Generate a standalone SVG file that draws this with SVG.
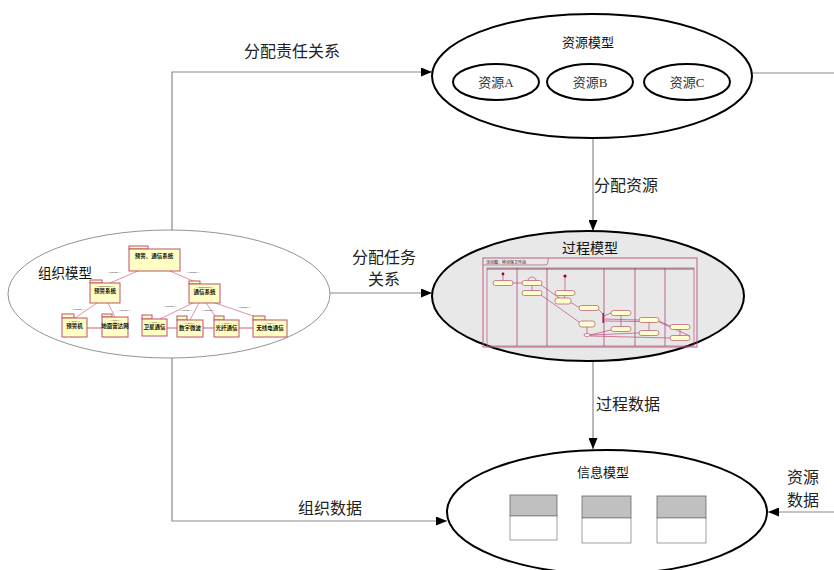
<svg xmlns="http://www.w3.org/2000/svg" width="834" height="570" viewBox="0 0 834 570">
<style>
.lbl{font-family:"Noto Sans CJK SC",sans-serif;fill:#222;font-size:16px}
.ttl{font-family:"Noto Sans CJK SC",sans-serif;fill:#111;font-size:13px}
.res{font-family:"Liberation Serif","Noto Sans CJK SC",serif;fill:#333;font-size:13px}
.conn{fill:none;stroke:#8a8a8a;stroke-width:1.2}
.big{fill:#fff;stroke:#000;stroke-width:2}
.pkg{fill:#ffffc4;stroke:#c0506e;stroke-width:1}
.ptx{font-family:"Noto Sans CJK SC",sans-serif;font-size:5.5px;font-weight:bold;fill:#111;text-anchor:middle}
.st{font-family:"Liberation Sans",sans-serif;font-size:2.4px;fill:#111;text-anchor:middle}
.dep{fill:none;stroke:#d87890;stroke-width:0.8}
.act{fill:#ffffcc;stroke:#b03060;stroke-width:0.6}
.al{fill:none;stroke:#b8306a;stroke-width:0.6}
.tb{fill:#fff;stroke:#777;stroke-width:0.7}
</style>
<defs>
<marker id="ah" markerUnits="userSpaceOnUse" markerWidth="11" markerHeight="9" refX="11" refY="4.5" orient="auto">
<path d="M0,0 L11,4.5 L0,9 z" fill="#000"/>
</marker>
</defs>

<g id="connectors">
<polyline class="conn" points="172,230 172,72 432,72" marker-end="url(#ah)"/>
<line class="conn" x1="593" y1="139" x2="593" y2="231" marker-end="url(#ah)"/>
<line class="conn" x1="330" y1="293" x2="432" y2="293" marker-end="url(#ah)"/>
<line class="conn" x1="593" y1="361" x2="593" y2="449" marker-end="url(#ah)"/>
<polyline class="conn" points="172,358 172,521 447,521" marker-end="url(#ah)"/>
<line class="conn" x1="834" y1="512" x2="768" y2="512" marker-end="url(#ah)"/>
<line class="conn" x1="752" y1="73" x2="834" y2="73"/>
<text class="lbl" x="244" y="57">分配责任关系</text>
<text class="lbl" x="594" y="191">分配资源</text>
<text class="lbl" x="352" y="263">分配任务</text>
<text class="lbl" x="368" y="285">关系</text>
<text class="lbl" x="596" y="410">过程数据</text>
<text class="lbl" x="298" y="514">组织数据</text>
<text class="lbl" x="787" y="483">资源</text>
<text class="lbl" x="787" y="506">数据</text>
</g>

<g id="resource-model">
<ellipse class="big" cx="592" cy="76" rx="160" ry="62"/>
<text class="ttl" x="588" y="47" text-anchor="middle">资源模型</text>
<g id="resource-a"><ellipse class="big" cx="496" cy="82" rx="43" ry="18"/><text class="res" x="496" y="87" text-anchor="middle">资源A</text></g>
<g id="resource-b"><ellipse class="big" cx="590" cy="82" rx="43" ry="18"/><text class="res" x="590" y="87" text-anchor="middle">资源B</text></g>
<g id="resource-c"><ellipse class="big" cx="687" cy="82" rx="43" ry="18"/><text class="res" x="687" y="87" text-anchor="middle">资源C</text></g>
</g>

<g id="org-model">
<ellipse cx="169" cy="294" rx="161" ry="64" fill="#fff" stroke="#777" stroke-width="0.8"/>
<text class="ttl" x="38" y="278" style="font-size:13.5px">组织模型</text>
<g>
<line class="dep" x1="110" y1="283" x2="138" y2="271"/>
<line class="dep" x1="200" y1="284" x2="170" y2="271"/>
<line class="dep" x1="75" y1="318" x2="97" y2="303"/>
<line class="dep" x1="115" y1="317" x2="108" y2="303"/>
<line class="dep" x1="160" y1="319" x2="193" y2="303"/>
<line class="dep" x1="190" y1="320" x2="199" y2="303"/>
<line class="dep" x1="218" y1="320" x2="206" y2="303"/>
<line class="dep" x1="265" y1="320" x2="215" y2="303"/>
<line class="dep" x1="87" y1="328" x2="102" y2="328" style="stroke:#c03050"/>
<line class="dep" x1="167" y1="328" x2="177" y2="328" style="stroke:#c03050"/>
<line class="dep" x1="203" y1="328" x2="214" y2="328" style="stroke:#c03050"/>
<line class="dep" x1="239" y1="328" x2="253" y2="328" style="stroke:#c03050"/>
<text class="st" x="114" y="273">&lt;&lt;include&gt;&gt;</text>
<text class="st" x="193" y="273">&lt;&lt;include&gt;&gt;</text>
<text class="st" x="78" y="310">&lt;&lt;include&gt;&gt;</text>
<text class="st" x="124" y="311">&lt;&lt;include&gt;&gt;</text>
<text class="st" x="170" y="307">&lt;&lt;include&gt;&gt;</text>
<text class="st" x="186" y="311">&lt;&lt;include&gt;&gt;</text>
<text class="st" x="208" y="311">&lt;&lt;include&gt;&gt;</text>
<text class="st" x="244" y="308">&lt;&lt;include&gt;&gt;</text>
</g>
<g id="pkg-top"><rect class="pkg" x="129" y="246" width="19" height="3"/><rect class="pkg" x="129" y="249" width="51" height="22"/><text class="ptx" x="154" y="258">预警、通信系统</text></g>
<g id="pkg-yj"><rect class="pkg" x="90" y="280" width="12" height="3"/><rect class="pkg" x="90" y="283" width="30" height="20"/><text class="st" x="105" y="287">&lt;&lt;subsystem&gt;&gt;</text><text class="ptx" x="105" y="293">预警系统</text></g>
<g id="pkg-tx"><rect class="pkg" x="189" y="281" width="11" height="3"/><rect class="pkg" x="189" y="284" width="31" height="19"/><text class="st" x="204.5" y="288">&lt;&lt;subsystem&gt;&gt;</text><text class="ptx" x="204.5" y="294">通信系统</text></g>
<g id="pkg-b1"><rect class="pkg" x="62" y="314" width="12" height="4"/><rect class="pkg" x="62" y="318" width="25" height="19"/><text class="st" x="74.5" y="322">&lt;&lt;layer&gt;&gt;</text><text class="ptx" x="74.5" y="328">预警机</text></g>
<g id="pkg-b2"><rect class="pkg" x="102" y="314" width="10" height="3"/><rect class="pkg" x="102" y="317" width="26" height="20"/><text class="st" x="115" y="321">&lt;&lt;layer&gt;&gt;</text><text class="ptx" x="115" y="328">地面雷达网</text></g>
<g id="pkg-b3"><rect class="pkg" x="142" y="315" width="10" height="4"/><rect class="pkg" x="142" y="319" width="25" height="17"/><text class="st" x="154.5" y="323">&lt;&lt;layer&gt;&gt;</text><text class="ptx" x="154.5" y="329">卫星通信</text></g>
<g id="pkg-b4"><rect class="pkg" x="177" y="316" width="10" height="4"/><rect class="pkg" x="177" y="320" width="26" height="17"/><text class="st" x="190" y="324">&lt;&lt;layer&gt;&gt;</text><text class="ptx" x="190" y="330">数字微波</text></g>
<g id="pkg-b5"><rect class="pkg" x="214" y="316" width="10" height="4"/><rect class="pkg" x="214" y="320" width="25" height="17"/><text class="st" x="226.5" y="324">&lt;&lt;layer&gt;&gt;</text><text class="ptx" x="226.5" y="330">光纤通信</text></g>
<g id="pkg-b6"><rect class="pkg" x="253" y="316" width="12" height="4"/><rect class="pkg" x="253" y="320" width="34" height="17"/><text class="st" x="270" y="324">&lt;&lt;layer&gt;&gt;</text><text class="ptx" x="270" y="330">无线电通信</text></g>
</g>

<g id="process-model">
<ellipse cx="588" cy="296" rx="156" ry="65" fill="#e8e8e8" stroke="#000" stroke-width="2"/>
<text class="ttl" x="590" y="253" text-anchor="middle" style="font-size:14px">过程模型</text>
<rect x="483" y="258" width="214" height="89" fill="none" stroke="#b8507a" stroke-width="0.9"/>
<path d="M483,265 L545,265 Q548,265 548,262 L548,258" fill="none" stroke="#b8507a" stroke-width="0.7"/>
<text x="486" y="263.5" style="font-family:'Noto Sans CJK SC',sans-serif;font-size:4px;fill:#222">活动图：移动保卫作战</text>
<rect x="487" y="268" width="207" height="2" fill="#a8a8a8"/>
<rect x="487" y="268" width="207" height="78" fill="none" stroke="#b8507a" stroke-width="0.7"/>
<g stroke="#a83068" stroke-width="0.7">
<line x1="517" y1="268" x2="517" y2="346"/>
<line x1="547" y1="268" x2="547" y2="346"/>
<line x1="604" y1="268" x2="604" y2="346"/>
<line x1="635" y1="268" x2="635" y2="346"/>
<line x1="665" y1="268" x2="665" y2="346"/>
</g>
<g>
<line class="al" x1="503" y1="275" x2="503" y2="280.5"/>
<line class="al" x1="513" y1="283" x2="522" y2="283"/>
<path class="al" d="M528,280.5 C528,276 536,276 536,280.5"/>
<line class="al" x1="532" y1="285.5" x2="532" y2="290.5"/>
<line class="al" x1="541" y1="285" x2="560" y2="298.5"/>
<line class="al" x1="565" y1="277" x2="565" y2="290.5"/>
<line class="al" x1="565" y1="295.5" x2="564" y2="298"/>
<line class="al" x1="570" y1="302" x2="580" y2="308"/>
<line class="al" x1="598" y1="309" x2="603" y2="314"/>
<line class="al" x1="604" y1="316" x2="611" y2="313"/>
<line class="al" x1="604" y1="319" x2="639" y2="320"/>
<line class="al" x1="604" y1="321" x2="639" y2="321.5"/>
<line class="al" x1="621" y1="315.5" x2="621" y2="326.5"/>
<line class="al" x1="649" y1="322.5" x2="649" y2="330.5"/>
<line class="al" x1="659" y1="321" x2="670" y2="326"/>
<line class="al" x1="680" y1="329.5" x2="680" y2="335.5"/>
<line class="al" x1="579" y1="322" x2="541" y2="295"/>
<line class="al" x1="587" y1="327" x2="587" y2="333.5"/>
<line class="al" x1="590" y1="335" x2="611" y2="330"/>
<line class="al" x1="590" y1="335" x2="639" y2="333"/>
<line class="al" x1="590" y1="336" x2="670" y2="338"/>
<line class="al" x1="659" y1="322" x2="690" y2="336"/>
</g>
<circle cx="503" cy="274" r="1.4" fill="#a00030"/>
<circle cx="565" cy="276" r="1.6" fill="#a00030"/>
<rect x="602.5" y="313" width="1.3" height="10" fill="#a00030"/>
<ellipse cx="587" cy="335" rx="3" ry="1.5" fill="#fff" stroke="#b03060" stroke-width="0.6"/>
<rect class="act" x="493" y="280.5" width="20" height="5" rx="2.5"/>
<rect class="act" x="522" y="280.5" width="20" height="5" rx="2.5"/>
<rect class="act" x="522" y="290.5" width="20" height="5" rx="2.5"/>
<rect class="act" x="555" y="290.5" width="20" height="5" rx="2.5"/>
<rect class="act" x="555" y="298" width="16" height="6" rx="2.5"/>
<rect class="act" x="579" y="305.5" width="20" height="5" rx="2.5"/>
<rect class="act" x="579" y="321" width="16" height="6" rx="2.5"/>
<rect class="act" x="611" y="310.5" width="20" height="5" rx="2.5"/>
<rect class="act" x="611" y="326.5" width="20" height="5" rx="2.5"/>
<rect class="act" x="639" y="317.5" width="20" height="5" rx="2.5"/>
<rect class="act" x="639" y="330.5" width="20" height="5" rx="2.5"/>
<rect class="act" x="670" y="324.5" width="20" height="5" rx="2.5"/>
<rect class="act" x="670" y="335.5" width="20" height="5" rx="2.5"/>
</g>

<g id="info-model">
<ellipse class="big" cx="607" cy="512" rx="160" ry="62"/>
<text class="ttl" x="603" y="477" text-anchor="middle">信息模型</text>
<g id="table-1"><rect x="510" y="495" width="47" height="21" fill="#c0c0c0" stroke="#666" stroke-width="0.8"/><rect x="510" y="516" width="47" height="24" class="tb"/></g>
<g id="table-2"><rect x="582" y="496" width="49" height="22" fill="#c0c0c0" stroke="#666" stroke-width="0.8"/><rect x="582" y="518" width="49" height="25" class="tb"/></g>
<g id="table-3"><rect x="657" y="496" width="49" height="22" fill="#c0c0c0" stroke="#666" stroke-width="0.8"/><rect x="657" y="518" width="49" height="25" class="tb"/></g>
</g>
</svg>
